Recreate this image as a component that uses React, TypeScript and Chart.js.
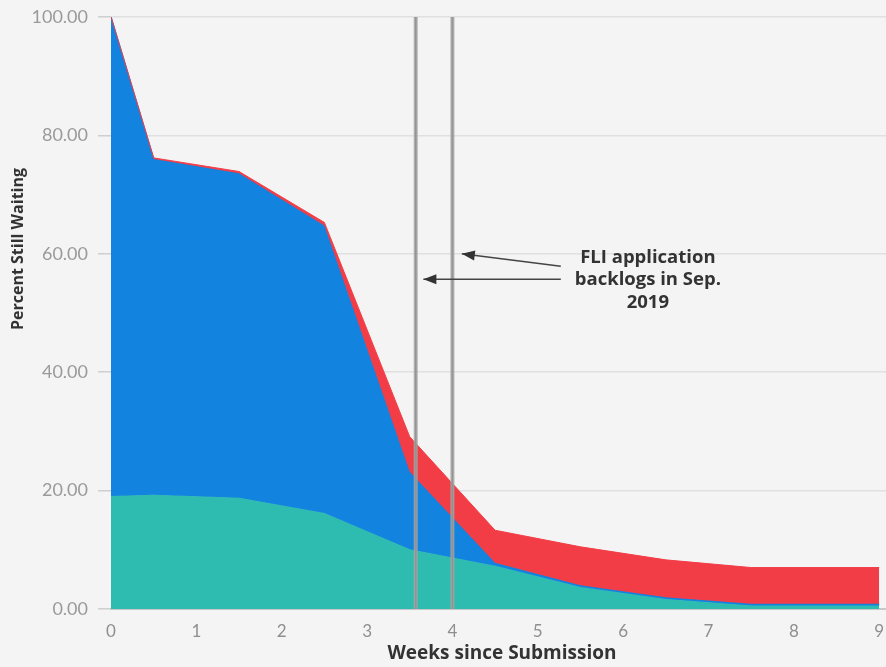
import React, { useEffect, useRef } from "react";
import { Chart, registerables } from "chart.js";

Chart.register(...registerables);

// Weeks since submission
const weeks = [0, 0.5, 1.5, 2.5, 3.5, 4.5, 5.5, 6.5, 7.5, 9];
// Cumulative (stacked) tops
const tealTop = [19.1, 19.3, 18.8, 16.2, 10.1, 7.3, 3.7, 1.7, 0.6, 0.6];
const blueTop = [100, 76.0, 73.6, 64.8, 23.2, 7.8, 4.0, 2.0, 0.9, 0.9];
const redTop = [100, 76.2, 73.9, 65.3, 29.1, 13.3, 10.5, 8.3, 7.0, 7.0];
// Backlog marker lines (weeks)
const backlogLines = [3.57, 4.0];
const annotationLines = ["FLI application", "backlogs in Sep.", "2019"];
const yTicks = [0, 20, 40, 60, 80, 100];
const xTicks = [0, 1, 2, 3, 4, 5, 6, 7, 8, 9];

const BG = "#f4f4f4";
const FONT = "Lato, 'Open Sans', sans-serif";
const BOLD = "'Open Sans', Lato, sans-serif";

const toPts = (ys: number[]) => weeks.map((x, i) => ({ x, y: ys[i] }));

export default function App() {
  const ref = useRef<HTMLCanvasElement | null>(null);

  useEffect(() => {
    document.body.style.margin = "0";
    document.body.style.background = BG;
    const ctx = ref.current!.getContext("2d")!;

    const overlay = {
      id: "overlay",
      afterDatasetsDraw(chart: any) {
        const c = chart.ctx;
        const xs = chart.scales.x;
        const ys = chart.scales.y;
        const area = chart.chartArea;
        c.save();
        // vertical backlog lines
        backlogLines.forEach((v) => {
          const px = xs.getPixelForValue(v);
          c.strokeStyle = "rgba(165,165,165,0.85)";
          c.lineWidth = 4;
          c.beginPath();
          c.moveTo(px, area.top);
          c.lineTo(px, area.bottom);
          c.stroke();
          c.strokeStyle = "rgba(145,145,145,0.9)";
          c.lineWidth = 1.5;
          c.beginPath();
          c.moveTo(px, area.top);
          c.lineTo(px, area.bottom);
          c.stroke();
        });
        // annotation text
        const tx = xs.getPixelForValue(6.29);
        c.fillStyle = "#333";
        c.font = `bold 18.5px ${BOLD}`;
        c.textAlign = "center";
        c.textBaseline = "middle";
        const ty0 = ys.getPixelForValue(59.4);
        annotationLines.forEach((t, i) => c.fillText(t, tx, ty0 + i * 22.5));
        // arrows
        const arrow = (x1: number, y1: number, x2: number, y2: number) => {
          c.strokeStyle = "#444";
          c.fillStyle = "#333";
          c.lineWidth = 1.6;
          c.beginPath();
          c.moveTo(x1, y1);
          c.lineTo(x2, y2);
          c.stroke();
          const ang = Math.atan2(y2 - y1, x2 - x1);
          const L = 13, W = 5;
          c.beginPath();
          c.moveTo(x2, y2);
          c.lineTo(x2 - L * Math.cos(ang) + W * Math.sin(ang), y2 - L * Math.sin(ang) - W * Math.cos(ang));
          c.lineTo(x2 - L * Math.cos(ang) - W * Math.sin(ang), y2 - L * Math.sin(ang) + W * Math.cos(ang));
          c.closePath();
          c.fill();
        };
        const sx = xs.getPixelForValue(5.27);
        arrow(sx, ys.getPixelForValue(57.9), xs.getPixelForValue(4.11), ys.getPixelForValue(60.0));
        arrow(sx, ys.getPixelForValue(55.7), xs.getPixelForValue(3.66), ys.getPixelForValue(55.7));
        // axis titles
        c.fillStyle = "#333";
        c.font = `bold 19px ${BOLD}`;
        c.textAlign = "center";
        c.textBaseline = "middle";
        c.fillText("Weeks since Submission", 502, 654);
        c.translate(18, 249);
        c.rotate(-Math.PI / 2);
        c.font = `bold 16px ${BOLD}`;
        c.fillText("Percent Still Waiting", 0, 0);
        c.restore();
      },
    };

    const chart = new Chart(ctx, {
      type: "line",
      data: {
        datasets: [
          {
            label: "Teal",
            data: toPts(tealTop),
            borderColor: "#2ebcb0",
            backgroundColor: "#2ebcb0",
            borderWidth: 1,
            pointRadius: 0,
            fill: "origin",
            tension: 0,
            order: 3,
          },
          {
            label: "Blue",
            data: toPts(blueTop),
            borderColor: "#1283df",
            backgroundColor: "#1283df",
            borderWidth: 1.5,
            pointRadius: 0,
            fill: "-1",
            tension: 0,
            order: 2,
          },
          {
            label: "Red",
            data: toPts(redTop),
            borderColor: "#f23d47",
            backgroundColor: "#f23d47",
            borderWidth: 1,
            pointRadius: 0,
            fill: "-1",
            tension: 0,
            order: 1,
          },
        ],
      },
      options: {
        animation: false,
        responsive: false,
        devicePixelRatio: 1,
        layout: { padding: { left: 0, right: 0, top: 17, bottom: 0 } },
        plugins: { legend: { display: false }, tooltip: { enabled: false } },
        scales: {
          x: {
            type: "linear",
            min: 0,
            max: 9.08,
            afterBuildTicks: (s: any) => {
              s.ticks = xTicks.map((v) => ({ value: v }));
            },
            afterFit: (s: any) => {
              s.height = 58;
              s.paddingLeft = 0;
              s.paddingRight = 0;
            },
            grid: { display: false, drawTicks: false },
            border: { display: true, color: "#c8c8c8", width: 2 },
            ticks: {
              color: "#8f8f8f",
              font: { family: FONT, size: 17 },
              padding: 12,
              maxRotation: 0,
              autoSkip: false,
            },
          },
          y: {
            min: 0,
            max: 100,
            afterBuildTicks: (s: any) => {
              s.ticks = yTicks.map((v) => ({ value: v }));
            },
            afterFit: (s: any) => {
              s.width = 111;
              s.paddingTop = 0;
              s.paddingBottom = 0;
            },
            grid: {
              color: "#e0e0e0",
              lineWidth: 1.5,
              tickLength: 13,
              tickColor: "#cfcfcf",
            },
            border: { display: false },
            ticks: {
              color: "#9a9a9a",
              font: { family: FONT, size: 18 },
              padding: 10,
              callback: (v: any) => Number(v).toFixed(2),
            },
          },
        },
      },
      plugins: [overlay],
    });
    return () => chart.destroy();
  }, []);

  return (
    <div style={{ position: "absolute", left: 0, top: 0, width: 886, height: 667, background: BG }}>
      <canvas ref={ref} width={886} height={667} style={{ display: "block", width: 886, height: 667 }} />
    </div>
  );
}
